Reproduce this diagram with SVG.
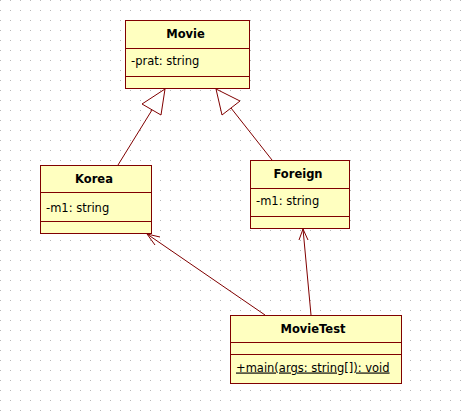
<svg xmlns="http://www.w3.org/2000/svg" width="467" height="411" viewBox="0 0 467 411">
<style>
.box{fill:#FFFFC0;stroke:#800000;stroke-width:1}
.div{stroke:#800000;stroke-width:1}
.t{font-family:"DejaVu Sans",Verdana,sans-serif;font-size:11.5px;fill:#000}
.b{font-weight:bold;text-anchor:middle}
.edge{fill:none;stroke:#800000;stroke-width:1}
.tri{fill:#FFFFFF;stroke:#800000;stroke-width:1;stroke-linejoin:miter}
</style>
<defs>
<pattern id="grid" x="0" y="0" width="10" height="10" patternUnits="userSpaceOnUse">
<rect x="0" y="0" width="1" height="1" fill="#B8B8B8"/>
</pattern>
</defs>
<rect width="467" height="411" fill="#FFFFFF"/>
<rect width="467" height="411" fill="url(#grid)"/>
<g id="connectors">
<line class="edge" x1="118" y1="165" x2="152" y2="110"/>
<polygon class="tri" points="165,89 142,104 161,115"/>
<line class="edge" x1="272" y1="160" x2="231" y2="108"/>
<polygon class="tri" points="216,89 240,101 222,115"/>
<line class="edge" x1="265" y1="315" x2="147" y2="234"/>
<polyline class="edge" points="160,237 147,234 155,245"/>
<line class="edge" x1="311" y1="315" x2="303" y2="229"/>
<polyline class="edge" points="299,240 303,229 308,240"/>
</g>
<g id="Movie">
<rect class="box" x="125.5" y="20.5" width="124" height="68"/>
<line class="div" x1="125.5" y1="48.5" x2="249.5" y2="48.5"/>
<line class="div" x1="125.5" y1="76.5" x2="249.5" y2="76.5"/>
<text class="t b" x="185.5" y="38">Movie</text>
<text class="t" x="131" y="65">-prat: string</text>
</g>
<g id="Korea">
<rect class="box" x="40.5" y="165.5" width="111" height="68"/>
<line class="div" x1="40.5" y1="192.5" x2="151.5" y2="192.5"/>
<line class="div" x1="40.5" y1="221.5" x2="151.5" y2="221.5"/>
<text class="t b" x="94" y="183">Korea</text>
<text class="t" x="46" y="211.5">-m1: string</text>
</g>
<g id="Foreign">
<rect class="box" x="250.5" y="160.5" width="99" height="68"/>
<line class="div" x1="250.5" y1="188.5" x2="349.5" y2="188.5"/>
<line class="div" x1="250.5" y1="216.5" x2="349.5" y2="216.5"/>
<text class="t b" x="298" y="178">Foreign</text>
<text class="t" x="256" y="205">-m1: string</text>
</g>
<g id="MovieTest">
<rect class="box" x="230.5" y="315.5" width="171" height="68"/>
<line class="div" x1="230.5" y1="342.5" x2="401.5" y2="342.5"/>
<line class="div" x1="230.5" y1="354.5" x2="401.5" y2="354.5"/>
<text class="t b" x="313" y="333">MovieTest</text>
<text class="t" x="236" y="371.5" text-decoration="underline">+main(args: string[]): void</text>
</g>
</svg>
